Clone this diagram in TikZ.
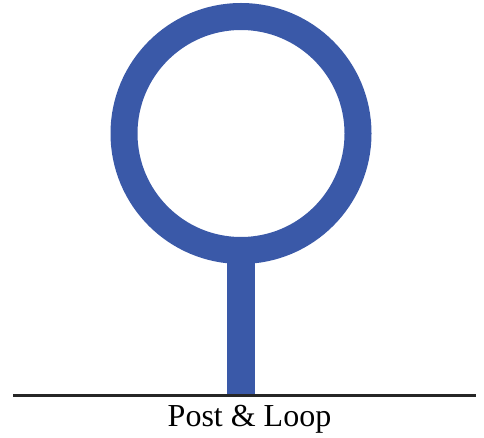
\documentclass[tikz,border=0pt]{standalone}
\usepackage{fontspec}
\setmainfont{Liberation Serif}
\usetikzlibrary{positioning}
\definecolor{loopblue}{RGB}{58,89,168}

\begin{document}
\begin{tikzpicture}[
  x=1pt, y=-1pt,
  ring/.style={draw=loopblue, circle, line width=27pt, minimum size=234pt, inner sep=0pt},
  post/.style={draw=loopblue, line width=28pt},
  ground/.style={draw=black!85, line width=3pt}
]
\useasboundingbox (0,0) rectangle (484,438);
\node[ring] (loop) at (241,133.5) {};
\coordinate (foot) at (242,395);
\coordinate (gleft) at (13,395);
\coordinate (gright) at (476,395);

\draw[post] ([yshift=6pt]loop.south) -- (loop.south |- foot);
\draw[ground] (gleft) -- (gright);

\node[anchor=base, font=\fontsize{32}{36}\selectfont, inner sep=0pt] (label) at (249.5,426) {Post \& Loop};
\end{tikzpicture}
\end{document}
